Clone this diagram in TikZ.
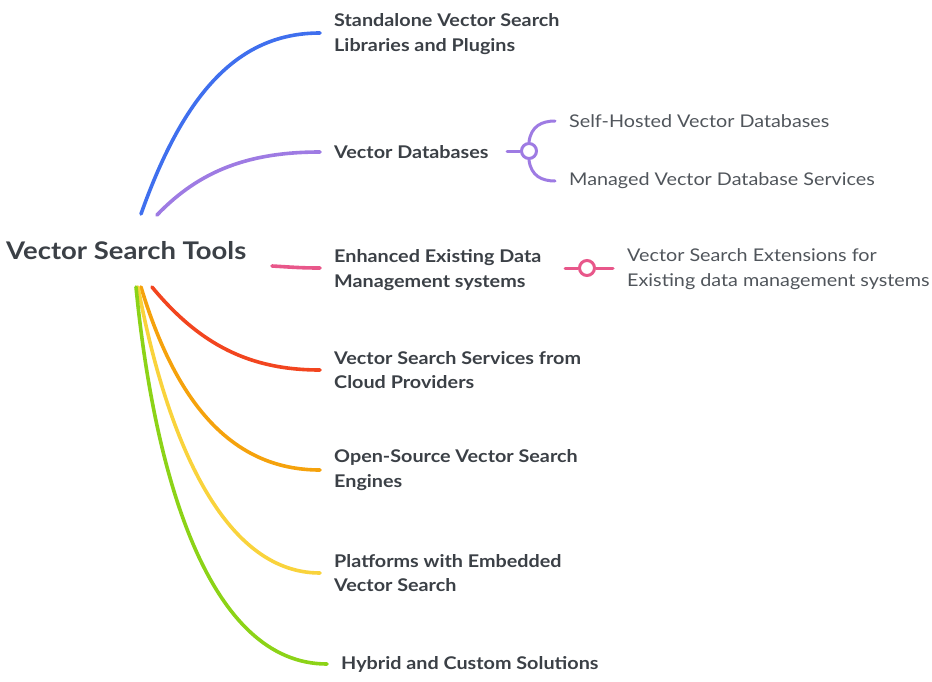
\documentclass[tikz,border=0pt]{standalone}
\usepackage{fontspec}
\setmainfont{Lato}[FakeStretch=1.13]
\definecolor{cblue}{HTML}{3F6FEE}
\definecolor{cpurple}{HTML}{9E7BE3}
\definecolor{cpink}{HTML}{E8578A}
\definecolor{cred}{HTML}{F2451F}
\definecolor{corange}{HTML}{F5A20C}
\definecolor{cyellow}{HTML}{F9D33C}
\definecolor{cgreen}{HTML}{8CD317}
\definecolor{ctext}{HTML}{3B4046}
\definecolor{cleaf}{HTML}{50555B}
\tikzset{
  rootnode/.style={anchor=west, inner sep=0pt, text=ctext, font=\fontsize{24.3pt}{28pt}\selectfont\bfseries},
  branchnode/.style={anchor=west, inner xsep=14pt, inner ysep=0pt, align=left, text=ctext, font=\fontsize{17.5pt}{24.5pt}\selectfont\bfseries},
  leafnode/.style={anchor=west, inner xsep=14pt, inner ysep=0pt, align=left, text=cleaf, font=\fontsize{17.5pt}{24.5pt}\selectfont},
  conn/.style={line width=3.6pt, line cap=round},
  junction/.style={circle, line width=3pt, fill=white, minimum size=15pt, inner sep=0pt},
}
\begin{document}
\begin{tikzpicture}[x=1pt,y=-1pt]
\useasboundingbox (0,0) rectangle (932,681);
\node[rootnode] (root) at (6,251) {Vector Search Tools};
\node[branchnode] (b1) at (320,34) {Standalone Vector Search\\Libraries and Plugins};
\node[branchnode] (b2) at (320,152) {Vector Databases};
\node[branchnode] (b3) at (320,270) {Enhanced Existing Data\\Management systems};
\node[branchnode] (b4) at (320,370) {Vector Search Services from\\Cloud Providers};
\node[branchnode] (b5) at (320,470) {Open-Source Vector Search\\Engines};
\node[branchnode] (b6) at (320,573) {Platforms with Embedded\\Vector Search};
\node[branchnode] (b7) at (327,664) {Hybrid and Custom Solutions};
\node[leafnode] (l1) at (555,121) {Self-Hosted Vector Databases};
\node[leafnode] (l2) at (555,181) {Managed Vector Database Services};
\node[leafnode] (l3) at (613,269) {Vector Search Extensions for\\Existing data management systems};
\coordinate (s1) at (141,214);
\coordinate (s2) at (157,215);
\coordinate (s3) at (272,266);
\coordinate (s4) at (152,287);
\coordinate (s5) at (141,287);
\coordinate (s6) at (138,287);
\coordinate (s7) at (136,287);
\coordinate (e1) at (320,33);
\coordinate (e3) at (320,268);
\draw[conn, cblue] (s1) .. controls (185,90) and (240,33) .. (e1);
\draw[conn, cpurple] (s2) .. controls (200,170) and (250,152) .. (b2.west);
\draw[conn, cpink] (s3) .. controls (290,267) and (300,268) .. (e3);
\draw[conn, cred] (s4) .. controls (200,345) and (250,370) .. (b4.west);
\draw[conn, corange] (s5) .. controls (175,400) and (230,470) .. (b5.west);
\draw[conn, cyellow] (s6) .. controls (165,430) and (220,573) .. (b6.west);
\draw[conn, cgreen] (s7) .. controls (155,480) and (210,664) .. (b7.west);
% purple junction
\coordinate (p0) at (507,151);
\node[junction, draw=cpurple] (j1) at (529,151) {};
\draw[conn, cpurple, line width=3pt] (p0) -- (j1);
\draw[conn, cpurple, line width=3pt] (j1.north) .. controls (531,126) and (542,121) .. (l1.west);
\draw[conn, cpurple, line width=3pt] (j1.south) .. controls (531,176) and (542,181) .. (l2.west);
% pink junction
\coordinate (q0) at (565,268);
\coordinate (q1) at (613,268);
\node[junction, draw=cpink] (j2) at (587,268) {};
\draw[conn, cpink, line width=3pt] (q0) -- (j2);
\draw[conn, cpink, line width=3pt] (j2) -- (q1);
\end{tikzpicture}
\end{document}
